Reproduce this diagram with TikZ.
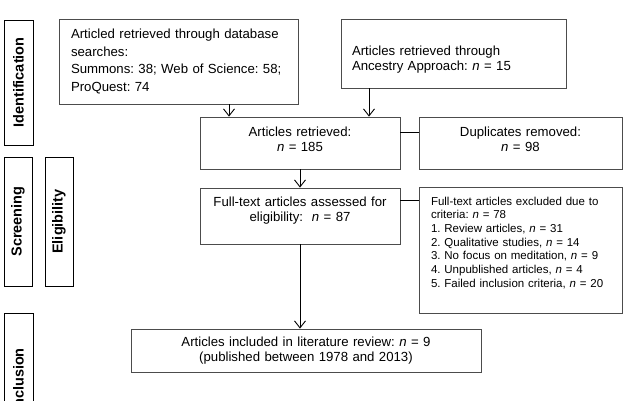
\documentclass[tikz,border=0pt]{standalone}
\usepackage{fontspec}
\setmainfont{Liberation Sans}
\usepackage{tikz}
\usetikzlibrary{arrows.meta, positioning}
\frenchspacing

\begin{document}
\begin{tikzpicture}[x=1pt, y=-1pt,
        box/.style={draw=black!70, line width=0.8pt, inner sep=0pt,
                    font=\fontsize{13.2}{15.5}\selectfont, align=center},
        lbox/.style={box, align=left, inner xsep=12pt},
        small/.style={font=\fontsize{11.5}{13.7}\selectfont},
        phase/.style={draw=black, line width=0.9pt, rotate=90, inner sep=0pt,
                      font=\fontsize{14.5}{16}\selectfont\bfseries},
        arr/.style={-{Straight Barb[length=7pt, width=11pt]}, line width=0.9pt},
        link/.style={line width=0.9pt}
      ]
        \useasboundingbox (0,0) rectangle (627,400);
        \clip (0,0) rectangle (627,400);

        % phases on the left
        \node[phase, minimum width=125pt, minimum height=29pt] (ident) at (18.5,82.5) {Identification};
        \node[phase, minimum width=129pt, minimum height=28pt] (screen) at (18,221.5) {Screening};
        \node[phase, minimum width=129pt, minimum height=28pt] (elig) at (59,221.5) {Eligibility};
        \node[phase, minimum width=134pt, minimum height=29pt] (incl) at (18.5,380) {Inclusion};

        % flow boxes
        \node[lbox, text width=215pt, minimum height=85pt] (db) at (178.5,61.5)
          {Articled retrieved through database\\[2pt]searches:\\[2pt]Summons: 38; Web of Science: 58;\\[2pt]ProQuest: 74};
        \node[lbox, text width=203pt, inner xsep=11pt, minimum height=69pt] (anc) at (453.5,53.5)
          {\rule{0pt}{22pt}Articles retrieved through\\Ancestry Approach: \textit{n} = 15};
        \node[box, text width=200pt, minimum height=52pt] (ret) at (300,143)
          {Articles retrieved:\\\textit{n} = 185\rule[-8pt]{0pt}{8pt}};
        \node[box, text width=203pt, minimum height=52pt] (dup) at (520.5,143)
          {Duplicates removed:\\\textit{n} = 98\rule[-8pt]{0pt}{8pt}};
        \node[box, text width=200pt, minimum height=56pt] (full) at (300,216)
          {Full-text articles assessed for\\eligibility:\ \ \textit{n} = 87\rule[-14pt]{0pt}{14pt}};
        \node[lbox, small, text width=179pt, minimum height=126pt] (excl) at (520.5,250)
          {Full-text articles excluded due to\\criteria: \textit{n} = 78\\1. Review articles, \textit{n} = 31\\2. Qualitative studies, \textit{n} = 14\\3. No focus on meditation, \textit{n} = 9\\4. Unpublished articles, \textit{n} = 4\\5. Failed inclusion criteria, \textit{n} = 20\rule[-16pt]{0pt}{16pt}};
        \node[box, text width=350pt, minimum height=43pt] (incl2) at (306,350.5)
          {Articles included in literature review: \textit{n} = 9\\(published between 1978 and 2013)};

        % connectors
        \draw[arr] ([xshift=50.5pt]db.south) -- ([xshift=50.5pt]db.south |- ret.north);
        \draw[arr] ([xshift=-84.5pt]anc.south) -- ([xshift=-84.5pt]anc.south |- ret.north);
        \draw[link] ([yshift=11pt]ret.east) -- ([yshift=11pt]ret.east -| dup.west);
        \draw[arr] (ret.south) -- (full.north);
        \draw[link] ([yshift=16pt]full.east) -- ([yshift=16pt]full.east -| excl.west);
        \draw[arr] (full.south) -- (full.south |- incl2.north);
      \end{tikzpicture}
\end{document}
